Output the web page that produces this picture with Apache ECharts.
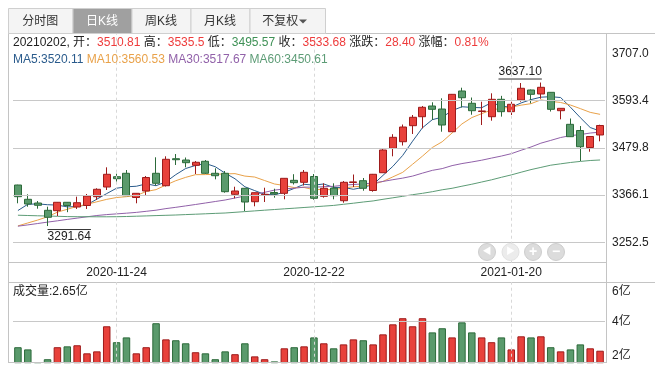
<!DOCTYPE html>
<html><head><meta charset="utf-8">
<script src="https://cdn.jsdelivr.net/npm/echarts@6/dist/echarts.min.js"></script>
<style>html,body{margin:0;padding:0;background:#fff}#c{width:660px;height:372px}</style>
</head><body><div id="c"></div>
<script>
const dates = ['2020-11-10','2020-11-11','2020-11-12','2020-11-13','2020-11-16','2020-11-17','2020-11-18','2020-11-19','2020-11-20','2020-11-23',
'2020-11-24','2020-11-25','2020-11-26','2020-11-27','2020-11-30','2020-12-01','2020-12-02','2020-12-03','2020-12-04','2020-12-07',
'2020-12-08','2020-12-09','2020-12-10','2020-12-11','2020-12-14','2020-12-15','2020-12-16','2020-12-17','2020-12-18','2020-12-21',
'2020-12-22','2020-12-23','2020-12-24','2020-12-25','2020-12-28','2020-12-29','2020-12-30','2020-12-31','2021-01-04','2021-01-05',
'2021-01-06','2021-01-07','2021-01-08','2021-01-11','2021-01-12','2021-01-13','2021-01-14','2021-01-15','2021-01-18','2021-01-19',
'2021-01-20','2021-01-21','2021-01-22','2021-01-25','2021-01-26','2021-01-27','2021-01-28','2021-01-29','2021-02-01','2021-02-02'];
const opens = [3390.4,3356.0,3347.1,3329.5,3328.6,3348.8,3337.5,3341.1,3362.3,3385.6,3410.4,3418.6,3360.3,3376.0,3418.6,3388.7,3453.7,3450.6,3437.8,3447.5,3418.6,3418.6,3368.0,3382.5,3350.2,3365.6,3372.4,3370.4,3401.7,3396.9,3410.9,3363.2,3383.0,3352.6,3396.5,3400.8,3377.2,3420.0,3478.8,3494.6,3533.2,3554.8,3580.6,3573.3,3518.7,3616.7,3587.1,3567.3,3554.8,3596.7,3566.9,3595.0,3619.1,3609.5,3613.5,3569.3,3536.5,3521.6,3480.7,3510.81];
const highs = [3391.0,3368.0,3351.9,3338.2,3349.5,3349.5,3362.3,3368.8,3382.5,3433.0,3417.6,3426.5,3371.0,3412.1,3457.1,3459.5,3465.0,3456.6,3448.2,3450.6,3430.6,3424.1,3386.3,3383.0,3372.4,3383.9,3381.5,3407.0,3416.4,3426.5,3416.9,3394.5,3394.5,3400.0,3415.7,3407.3,3417.0,3477.0,3512.7,3536.0,3558.9,3580.6,3589.5,3599.1,3609.5,3624.6,3601.0,3590.9,3611.1,3605.0,3590.9,3635.9,3620.3,3637.10,3614.0,3575.7,3550.5,3532.4,3508.0,3535.5];
const lows = [3346.4,3338.2,3333.4,3291.64,3315.8,3325.0,3332.7,3332.7,3354.3,3378.4,3398.4,3364.0,3346.4,3366.4,3389.2,3386.8,3438.6,3433.0,3416.9,3417.0,3404.1,3371.9,3358.4,3327.8,3339.2,3349.5,3359.9,3356.0,3391.6,3389.2,3355.0,3359.9,3356.0,3347.8,3385.6,3376.7,3374.3,3420.0,3459.5,3485.5,3513.2,3526.9,3546.9,3518.7,3518.7,3577.0,3559.6,3534.8,3545.2,3555.0,3558.9,3590.9,3587.1,3598.0,3567.3,3548.5,3506.0,3448.2,3470.6,3495.57];
const closes = [3362.3,3344.7,3341.6,3312.7,3348.8,3341.1,3347.8,3363.9,3380.1,3416.2,3405.6,3364.7,3370.4,3408.5,3394.5,3452.3,3451.3,3444.1,3445.1,3418.6,3412.8,3374.3,3376.0,3349.5,3371.9,3368.0,3368.8,3406.5,3396.0,3421.0,3358.4,3382.5,3364.7,3396.9,3397.9,3382.5,3416.2,3474.7,3505.2,3530.0,3553.4,3577.5,3572.6,3534.8,3608.7,3600.5,3569.3,3568.7,3596.7,3566.9,3584.7,3623.2,3608.7,3625.6,3572.6,3575.0,3506.7,3482.6,3507.2,3533.68];
const volumes = [2.81,2.71,2.13,2.26,2.81,2.85,2.90,2.53,2.62,3.77,3.04,3.26,2.53,2.81,3.91,3.17,3.13,2.99,2.58,2.53,2.26,2.62,2.49,2.99,2.39,2.26,2.16,2.76,2.81,2.85,3.26,2.99,2.76,2.94,3.17,3.13,2.94,3.40,3.86,4.14,3.77,4.14,3.49,3.68,3.26,3.95,3.49,3.26,3.04,3.26,2.71,3.31,3.26,3.31,2.81,2.62,2.71,2.94,2.76,2.65];
const ma5 = [3329,3344,3345,3343,3342.0,3337.8,3338.4,3342.9,3356.3,3369.8,3382.7,3386.1,3387.4,3393.1,3388.7,3398.1,3415.4,3430.1,3437.5,3442.3,3434.4,3419.0,3405.4,3386.2,3376.9,3367.9,3366.8,3372.9,3382.2,3392.1,3390.1,3392.9,3384.5,3384.7,3380.1,3384.9,3391.6,3413.6,3435.3,3461.7,3495.9,3528.2,3547.7,3553.7,3569.4,3578.8,3577.2,3576.4,3588.8,3580.4,3577.3,3588.0,3596.0,3601.8,3603.0,3601.0,3577.7,3552.5,3528.8,3520.11];
const ma10 = [3292,3299,3306,3314,3325,3332,3339,3344,3350,3355.9,3360.3,3362.3,3365.1,3374.7,3379.3,3390.4,3400.8,3408.8,3415.3,3415.5,3416.2,3417.2,3417.8,3411.9,3409.6,3401.2,3392.9,3389.2,3384.2,3384.5,3379.0,3379.9,3378.7,3383.5,3386.1,3387.5,3392.3,3399.1,3410.0,3420.9,3440.4,3459.9,3480.7,3494.5,3515.6,3537.4,3552.7,3562.1,3571.2,3574.9,3578.0,3582.6,3586.2,3595.3,3591.7,3589.1,3582.9,3574.3,3565.3,3560.53];
const ma30 = [3291.3,3294.4,3297.7,3301.1,3304.2,3307.6,3310.7,3313.9,3317.0,3319.2,3320.9,3322.6,3324.5,3327.1,3329.8,3333.6,3336.7,3340.1,3343.5,3347.1,3350.7,3354.3,3359.1,3363.9,3367.8,3372.8,3378.1,3381.0,3382.7,3385.3,3385.2,3386.4,3387.2,3390.0,3391.6,3393.0,3395.3,3399.0,3403.2,3407.0,3411.9,3419.0,3425.7,3429.9,3437.1,3442.0,3445.9,3450.1,3455.2,3460.1,3465.8,3474.1,3481.9,3491.1,3497.8,3504.7,3509.3,3511.8,3515.5,3517.67];
const ma60 = [3317.7,3317.0,3316.3,3315.8,3315.1,3314.4,3314.1,3314.1,3313.9,3313.9,3314.1,3314.6,3315.3,3316.0,3316.8,3317.5,3318.2,3319.2,3320.1,3321.1,3322.1,3323.0,3324.7,3326.4,3328.1,3329.8,3331.4,3333.1,3334.6,3336.3,3337.9,3339.6,3341.3,3344.0,3346.6,3349.5,3352.1,3356.0,3359.6,3363.2,3367.1,3370.4,3374.3,3378.9,3382.5,3387.5,3392.3,3397.6,3402.9,3409.0,3414.7,3421.2,3427.5,3432.8,3438.1,3441.4,3444.6,3447.2,3449.4,3450.61];
const priceTicks = [3252.5, 3366.1, 3479.8, 3593.4, 3707.0];
const volTicks = [2, 4, 6];
const dateLabels = ['2020-11-24', '2020-12-22', '2021-01-20'];
const tabs = ['分时图', '日K线', '周K线', '月K线', '不复权'];
const infoChange = '28.40', infoPct = '0.81%';

const FONT = '"Liberation Sans", "Noto Sans CJK SC", sans-serif';
const RED = '#e8413b', RED_B = '#9e1b1b', GRN = '#5a9a6c', GRN_B = '#2c6a3a';
const GRIDC = '#c8c8c8';
const NONE = 'rgba(0,0,0,0)';
const P_MIN = 3203.4, P_MAX = 3756.3, V_MIN = 2.1, V_MAX = 5.8;
const n = dates.length - 1;

const chart = echarts.init(document.getElementById('c'), null, {renderer: 'canvas'});

const priceMark = priceTicks.map((v, k) => ({
  yAxis: v,
  lineStyle: {color: k === priceTicks.length - 1 ? NONE : GRIDC, width: 1, type: 'solid'},
  label: {show: true, position: 'end', distance: 7, color: '#222', fontSize: 12, fontFamily: FONT, formatter: v.toFixed(1)}
}));
const dateMark = dateLabels.map(d => ({xAxis: d, lineStyle: {color: '#d8d8d8', type: [3, 3], width: 1}, label: {show: false}}));
const volMark = volTicks.map((v, k) => {
  const val = Math.min(Math.max(v, V_MIN), V_MAX);
  const isTop = k === volTicks.length - 1, isBot = k === 0;
  return {
    yAxis: val,
    lineStyle: {color: (v > V_MIN && v < V_MAX) ? GRIDC : NONE, width: 1, type: 'solid'},
    label: {show: true, position: 'end', distance: 7, color: '#222', fontSize: 12, fontFamily: FONT,
      verticalAlign: isTop ? 'top' : (isBot ? 'bottom' : 'middle'), lineHeight: isTop ? 20 : 14,
      formatter: v + '亿'}
  };
}).concat(dateMark);

const prevClose = closes[n - 1];
const clr = v => v >= prevClose ? 'r' : 'g';
const infoText = `{k|${dates[n].replace(/-/g, '')}, 开：}{${clr(opens[n])}|${opens[n].toFixed(2)}}{k| 高：}{${clr(highs[n])}|${highs[n]}}{k| 低：}{${clr(lows[n])}|${lows[n]}}{k| 收：}{${clr(closes[n])}|${closes[n].toFixed(2)}}{k| 涨跌：}{r|${infoChange}}{k| 涨幅：}{r|${infoPct}}`;
const maText = `{a|MA5:${ma5[n].toFixed(2)}} {b|MA10:${ma10[n].toFixed(2)}} {c|MA30:${ma30[n].toFixed(2)}} {d|MA60:${ma60[n].toFixed(2)}}`;
const MA_COL = ['#2a5b8c', '#e9a24a', '#9161a9', '#5d9c76'];

const gfx = [];
const tabEdges = [8, 72.5, 131.5, 190.5, 249.5, 325];
tabs.forEach((t, i) => {
  const active = i === 1;
  gfx.push({id: 'tab' + i, type: 'rect', shape: {x: tabEdges[i] + 0.5, y: 8.5, width: tabEdges[i + 1] - tabEdges[i], height: 25},
    style: {fill: active ? '#a0a0a0' : '#f4f4f4', stroke: '#cfcfcf', lineWidth: 1}, z: 10});
  gfx.push({id: 'tabt' + i, type: 'text', x: (tabEdges[i] + tabEdges[i + 1]) / 2 + (i === 4 ? -7 : 0), y: 21.5,
    style: {text: t, fill: active ? '#ffffff' : '#333', font: '12px ' + FONT, textAlign: 'center', textVerticalAlign: 'middle'}, z: 11});
});
gfx.push({id: 'tri', type: 'polygon', shape: {points: [[299, 19.5], [307, 19.5], [303, 23.5]]}, style: {fill: '#555'}, z: 11});
const line = (id, x1, y1, x2, y2) => gfx.push({id, type: 'line', shape: {x1, y1, x2, y2}, style: {stroke: '#c4c4c4', lineWidth: 1}, z: 5});
line('fl', 8.5, 33.5, 8.5, 363);
line('ft', 8, 33.5, 655, 33.5);
line('fr', 606.5, 33.5, 606.5, 363);
line('fb1', 8, 262.5, 607, 262.5);
line('ft2', 8, 282.5, 655, 282.5);
line('fb2', 8, 362.5, 607, 362.5);
const navX = [487, 510.5, 533, 556];
const navIcon = ['◀', '▶', '+', '−'];
navX.forEach((x, i) => {
  gfx.push({id: 'nav' + i, type: 'circle', shape: {cx: x, cy: 252, r: 8.5}, style: {fill: i === 1 ? '#ececec' : '#dcdcdc', stroke: i === 1 ? '#e2e2e2' : '#cdcdcd', lineWidth: 1}, z: 12});
  gfx.push({id: 'navt' + i, type: 'text', x: x, y: 252, style: {text: navIcon[i], fill: '#fff', font: (i < 2 ? '9px ' : 'bold 14px ') + FONT, textAlign: 'center', textVerticalAlign: 'middle'}, z: 13});
});

const candleData = dates.map((d, i) => [opens[i], closes[i], lows[i], highs[i]]);
const volData = volumes.map((v, i) => ({
  value: v,
  itemStyle: closes[i] >= opens[i] ? {color: RED, borderColor: RED_B} : {color: GRN, borderColor: GRN_B}
}));
const maSeries = [ma5, ma10, ma30, ma60].map((arr, k) => ({
  type: 'line', name: ['MA5', 'MA10', 'MA30', 'MA60'][k], data: arr, xAxisIndex: 0, yAxisIndex: 0,
  showSymbol: false, symbol: 'none', smooth: false, silent: true,
  lineStyle: {color: MA_COL[k], width: 1}, z: 3
}));
maSeries[0].markLine = {symbol: 'none', silent: true, animation: false, data: dateMark};

chart.setOption({
  animation: false,
  backgroundColor: '#fff',
  textStyle: {fontFamily: FONT},
  title: [
    {text: infoText, left: 13, top: 36, padding: 0, textStyle: {fontSize: 12, lineHeight: 14, fontWeight: 'normal', rich: {
      k: {color: '#222', fontSize: 12, fontFamily: FONT}, r: {color: '#ee3b3b', fontSize: 12, fontFamily: FONT}, g: {color: '#3f9156', fontSize: 12, fontFamily: FONT}}}},
    {text: maText, left: 13, top: 53, padding: 0, textStyle: {fontSize: 12, lineHeight: 14, fontWeight: 'normal', rich: {
      a: {color: MA_COL[0], fontSize: 12, fontFamily: FONT}, b: {color: MA_COL[1], fontSize: 12, fontFamily: FONT},
      c: {color: MA_COL[2], fontSize: 12, fontFamily: FONT}, d: {color: MA_COL[3], fontSize: 12, fontFamily: FONT}}}},
    {text: '成交量:' + volumes[n].toFixed(2) + '亿', left: 13, top: 285, padding: 0, textStyle: {fontSize: 12, lineHeight: 14, fontWeight: 'normal', color: '#222', fontFamily: FONT}}
  ],
  grid: [
    {left: 13, width: 592, top: 33, height: 229.7},
    {left: 13, width: 592, top: 282, height: 80.7}
  ],
  xAxis: [
    {type: 'category', gridIndex: 0, data: dates, boundaryGap: true,
      axisLine: {show: false}, axisTick: {show: false}, splitLine: {show: false},
      axisLabel: {show: true, interval: (idx, val) => dateLabels.includes(val), margin: 4, color: '#222', fontSize: 12, fontFamily: FONT}},
    {type: 'category', gridIndex: 1, data: dates, boundaryGap: true,
      axisLine: {show: false}, axisTick: {show: false}, axisLabel: {show: false}, splitLine: {show: false}}
  ],
  yAxis: [
    {type: 'value', gridIndex: 0, min: P_MIN, max: P_MAX, show: false, splitLine: {show: false}},
    {type: 'value', gridIndex: 1, min: V_MIN, max: V_MAX, show: false, splitLine: {show: false}}
  ],
  series: [
    {type: 'candlestick', name: '日K', data: candleData, xAxisIndex: 0, yAxisIndex: 0, barWidth: '76%', z: 4,
      itemStyle: {color: RED, color0: GRN, borderColor: RED_B, borderColor0: GRN_B, borderWidth: 1},
      markLine: {symbol: 'none', silent: true, animation: false, data: priceMark}},
    ...maSeries,
    {type: 'bar', name: '成交量', data: volData, xAxisIndex: 1, yAxisIndex: 1, barWidth: '76%',
      itemStyle: {borderWidth: 1},
      markLine: {symbol: 'none', silent: true, animation: false, data: volMark}}
  ],
  graphic: gfx
});

const hiIdx = highs.indexOf(Math.max(...highs));
const loIdx = lows.indexOf(Math.min(...lows));
const hp = chart.convertToPixel({xAxisIndex: 0, yAxisIndex: 0}, [hiIdx, highs[hiIdx]]);
const lp = chart.convertToPixel({xAxisIndex: 0, yAxisIndex: 0}, [loIdx, lows[loIdx]]);
const ctx = document.createElement('canvas').getContext('2d');
ctx.font = '12px ' + FONT;
const hiT = highs[hiIdx].toFixed(2), loT = lows[loIdx].toFixed(2);
const hw = ctx.measureText(hiT).width, lw = ctx.measureText(loT).width;
chart.setOption({graphic: [
  {id: 'hiText', type: 'text', x: hp[0] + 1, y: hp[1] - 5, style: {text: hiT, fill: '#222', font: '12px ' + FONT, textAlign: 'right', textVerticalAlign: 'bottom'}, z: 20},
  {id: 'hiLine', type: 'line', shape: {x1: hp[0] + 1 - hw, y1: hp[1] - 3.5, x2: hp[0] + 1, y2: hp[1] - 3.5}, style: {stroke: '#333', lineWidth: 1}, z: 20},
  {id: 'loText', type: 'text', x: lp[0], y: lp[1] + 5, style: {text: loT, fill: '#222', font: '12px ' + FONT, textAlign: 'left', textVerticalAlign: 'top'}, z: 20},
  {id: 'loLine', type: 'line', shape: {x1: lp[0], y1: lp[1] + 3.5, x2: lp[0] + lw, y2: lp[1] + 3.5}, style: {stroke: '#333', lineWidth: 1}, z: 20}
]});
</script>
</body></html>
